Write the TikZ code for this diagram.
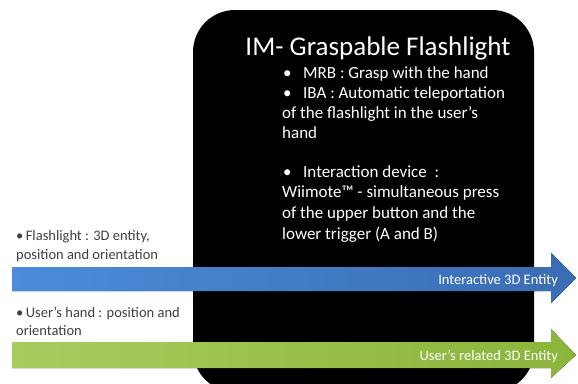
\documentclass[tikz,border=0pt]{standalone}
\usepackage{fontspec}
\setmainfont{Carlito}
\definecolor{blueL}{HTML}{4A8CDA}
\definecolor{blueR}{HTML}{3A6CB3}
\definecolor{greenL}{HTML}{A8CC5E}
\definecolor{greenR}{HTML}{8AB43A}
\definecolor{sidegray}{HTML}{404040}
\begin{document}
\begin{tikzpicture}[x=1pt,y=-1pt,
  boxtext/.style={anchor=base west, text=white, font=\fontsize{17}{20}\selectfont, inner sep=0pt},
  sidetext/.style={anchor=base west, text=sidegray, font=\fontsize{14.5}{17}\selectfont, inner sep=0pt},
  arrowlabel/.style={anchor=base east, text=white, font=\fontsize{14.5}{17}\selectfont, inner sep=0pt}]
\useasboundingbox (0,0) rectangle (578,383);
\fill[white] (0,0) rectangle (578,383);
\begin{scope}
  \clip (0,0) rectangle (578,383);
  \fill[black, rounded corners=42pt] (193,10) rectangle (534,392);
\end{scope}
% title and body
\node[anchor=base, text=white, font=\fontsize{27}{32}\selectfont, inner sep=0pt] (title) at (378,55) {IM- Graspable Flashlight};
\node[boxtext] (b1) at (283,78) {\textbullet};
\node[boxtext] (t1) at (303,78) {MRB : Grasp with the hand};
\node[boxtext] (b2) at (283,98) {\textbullet};
\node[boxtext] (t2) at (303,98) {IBA : Automatic teleportation};
\node[boxtext] (t3) at (282,118) {of the flashlight in the user’s};
\node[boxtext] (t4) at (282,138) {hand};
\node[boxtext] (b5) at (283,177) {\textbullet};
\node[boxtext] (t5) at (303,177) {Interaction device \ :};
\node[boxtext] (t6) at (282,197) {Wiimote™ - simultaneous press};
\node[boxtext] (t7) at (282,218) {of the upper button and the};
\node[boxtext] (t8) at (282,239) {lower trigger (A and B)};
% side texts
\node[sidetext] (s1) at (16,240) {\textbullet\,Flashlight : 3D entity,};
\node[sidetext] (s2) at (16,259) {position and orientation};
\node[sidetext] (s3) at (16,317) {\textbullet\,User’s hand : position and};
\node[sidetext] (s4) at (16,335) {orientation};
% arrows
\fill[left color=blueL, right color=blueR] (12,267) -- (551,267) -- (551,253) -- (576,278) -- (551,303) -- (551,291) -- (12,291) -- cycle;
\fill[left color=greenL, right color=greenR] (12,342) -- (551,342) -- (551,329) -- (576,355) -- (551,378) -- (551,368) -- (12,368) -- cycle;
\node[arrowlabel] (a1) at (558,284) {Interactive 3D Entity};
\node[arrowlabel] (a2) at (558,360) {User’s related 3D Entity};
\end{tikzpicture}
\end{document}
